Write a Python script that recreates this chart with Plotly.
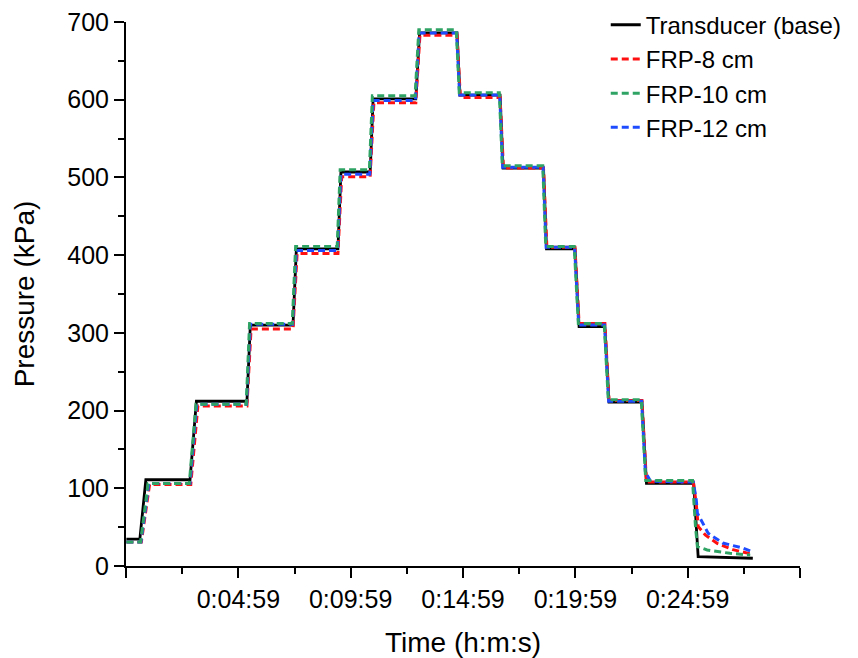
import plotly.graph_objects as go

# ---- data (time in seconds, pressure in kPa) ----
t_base = [0, 36, 52, 170, 187, 322, 331, 445, 454, 565, 573, 651, 659, 773, 783, 883, 891, 998, 1006, 1114,
          1122, 1198, 1209, 1278, 1289, 1377, 1389, 1515, 1527, 1673]
p_base = [34.5, 34.5, 111, 111, 212, 212, 310, 310, 408, 408, 507, 507, 601, 601, 686, 686, 606, 606, 512, 512,
          408, 408, 308, 308, 211, 211, 106.5, 106.5, 12, 10]

t_frp8 = [0, 40, 62, 172, 191, 322, 333, 445, 456, 565, 575, 651, 661, 773, 784, 883, 892, 998, 1007, 1114,
          1123, 1198, 1209, 1278, 1289, 1377, 1389, 1514, 1522, 1527, 1546, 1578, 1620, 1673]
p_frp8 = [31, 31, 105, 105, 206, 206, 305, 305, 402, 402, 501, 501, 596, 596, 683, 683, 603, 603, 512, 512,
          410, 410, 312, 312, 213, 213, 108, 108, 80, 51, 40, 29, 21, 15]

t_frp10 = [0, 38, 58, 168, 186, 320, 329, 443, 452, 563, 571, 649, 657, 771, 781, 881, 889, 996, 1004, 1112,
           1120, 1196, 1207, 1276, 1287, 1375, 1387, 1512, 1520, 1525, 1551, 1612, 1666]
p_frp10 = [31, 31, 106, 106, 208, 208, 312, 312, 411, 411, 510, 510, 605, 605, 690, 690, 609, 609, 515, 515,
           411, 411, 312, 312, 214, 214, 110, 110, 50, 25, 20.6, 16.3, 14]

t_frp12 = [0, 39, 60, 170, 188, 321, 331, 444, 454, 564, 573, 650, 659, 772, 782, 882, 890, 997, 1005, 1113,
           1121, 1197, 1208, 1277, 1288, 1376, 1386, 1400, 1514, 1522, 1525, 1554, 1593, 1647, 1673]
p_frp12 = [31, 31, 106, 106, 208, 208, 311, 311, 406, 406, 504, 504, 599, 599, 686, 686, 606, 606, 513, 513,
           410, 410, 310, 310, 212, 212, 121, 109, 108, 85, 68, 42, 29.5, 23, 18]

x_tickvals = [-1, 299, 599, 899, 1199, 1499, 1799]
x_ticktext = ["", "0:04:59", "0:09:59", "0:14:59", "0:19:59", "0:24:59", ""]
x_minor = [149, 449, 749, 1049, 1349, 1649]
y_tickvals = [0, 100, 200, 300, 400, 500, 600, 700]
y_minor = [50, 150, 250, 350, 450, 550, 650]

FONT = "Arial, Liberation Sans, sans-serif"

fig = go.Figure()
fig.add_trace(go.Scatter(x=t_base, y=p_base, mode="lines", name="Transducer (base)",
                         line=dict(color="#000000", width=2.8), legendrank=1))
fig.add_trace(go.Scatter(x=t_frp8, y=p_frp8, mode="lines", name="FRP-8 cm",
                         line=dict(color="#FF1010", width=3, dash="7px,4px"), legendrank=2))
fig.add_trace(go.Scatter(x=t_frp12, y=p_frp12, mode="lines", name="FRP-12 cm",
                         line=dict(color="#1F4BFF", width=3, dash="7px,4px"), legendrank=4))
fig.add_trace(go.Scatter(x=t_frp10, y=p_frp10, mode="lines", name="FRP-10 cm",
                         line=dict(color="#2FA363", width=3, dash="7px,4px"), legendrank=3))

fig.update_layout(
    width=858, height=658,
    margin=dict(l=126, r=58, t=22, b=92, autoexpand=False),
    paper_bgcolor="white", plot_bgcolor="white",
    font=dict(family=FONT, size=25, color="black"),
    showlegend=True,
    legend=dict(x=0.706, y=0.996, xref="container", yref="container",
                xanchor="left", yanchor="top",
                bgcolor="rgba(0,0,0,0)", font=dict(size=24, family=FONT),
                tracegroupgap=0, itemwidth=30),
    xaxis=dict(range=[-1, 1799], showgrid=False, zeroline=False,
               showline=True, linecolor="black", linewidth=2,
               ticks="outside", ticklen=10, tickwidth=2, tickcolor="black",
               tickmode="array", tickvals=x_tickvals, ticktext=x_ticktext,
               tickfont=dict(size=25, family=FONT),
               minor=dict(tickmode="array", tickvals=x_minor, ticks="outside",
                          ticklen=6, tickwidth=2, tickcolor="black", showgrid=False),
               title=dict(text="Time (h:m:s)", font=dict(size=28, family=FONT), standoff=23)),
    yaxis=dict(range=[0, 700], showgrid=False, zeroline=False,
               showline=True, linecolor="black", linewidth=2,
               ticks="outside", ticklen=10, tickwidth=2, tickcolor="black",
               tickmode="array", tickvals=y_tickvals,
               tickfont=dict(size=25, family=FONT),
               minor=dict(tickmode="array", tickvals=y_minor, ticks="outside",
                          ticklen=6, tickwidth=2, tickcolor="black", showgrid=False),
               title=dict(text="Pressure (kPa)", font=dict(size=28, family=FONT), standoff=24)),
)

fig.write_html("out.html")
